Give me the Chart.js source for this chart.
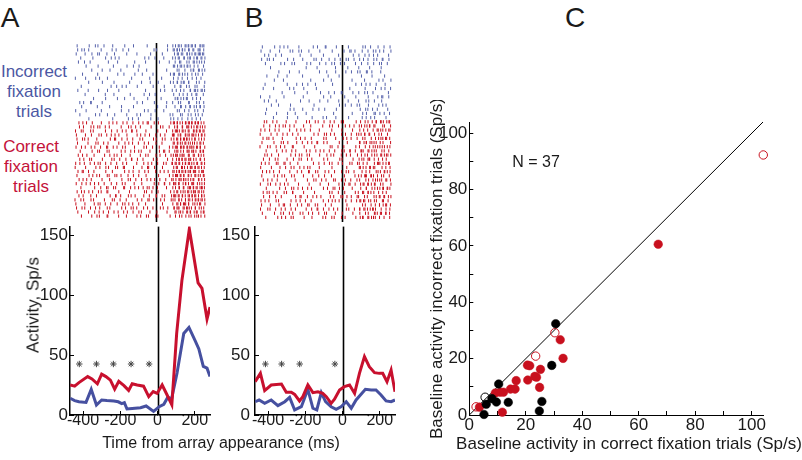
<!DOCTYPE html>
<html>
<head>
<meta charset="utf-8">
<script src="https://cdn.jsdelivr.net/npm/chart.js@4.4.1/dist/chart.umd.min.js"></script>
<style>
  body { margin: 0; width: 802px; height: 460px; position: relative; overflow: hidden; background: #fff;
         font-family: "Liberation Sans", Arial, sans-serif; color: #1a1a1a; }
  canvas { position: absolute; }
  .c { position: absolute; transform: translate(-50%, -50%); line-height: 1; white-space: nowrap; }
  .r { transform: translate(-50%, -50%) rotate(-90deg); }
  .multi { line-height: 20px; text-align: center; }
</style>
</head>
<body>
<canvas id="rasterA" width="140" height="189" style="left:70px;top:38px"></canvas>
<canvas id="rasterB" width="141" height="187" style="left:255px;top:40px"></canvas>
<canvas id="lineA" width="215" height="260" style="left:0px;top:200px"></canvas>
<canvas id="lineB" width="185" height="260" style="left:215px;top:200px"></canvas>
<canvas id="scatterC" width="382" height="360" style="left:420px;top:100px"></canvas>

<div class="c" style="left:10px;top:18px;font-size:28px">A</div>
<div class="c" style="left:254px;top:18px;font-size:28px">B</div>
<div class="c" style="left:575px;top:18px;font-size:28px">C</div>
<div class="c multi" style="left:34px;top:92px;font-size:17px;color:#4b57a3">Incorrect<br>fixation<br>trials</div>
<div class="c multi" style="left:31px;top:167px;font-size:17px;color:#c4123a">Correct<br>fixation<br>trials</div>
<div class="c r" style="left:33px;top:305px;font-size:17px">Activity, Sp/s</div>
<div class="c" style="left:221px;top:443px;font-size:16px">Time from array appearance (ms)</div>
<div class="c" style="left:629px;top:443px;font-size:17px">Baseline activity in correct fixation trials (Sp/s)</div>
<div class="c" style="left:536px;top:162px;font-size:16px">N = 37</div>

<script>
// ---- panel A: mean activity (Sp/s) vs time from array appearance (ms)
const aRedT  = [-469,-445,-422,-375,-352,-323,-300,-277,-253,-230,-208,-180,-155,-136,-109,-75,-47,-23,-2,25,49,77,103,131,171,218,239,266,282];
const aRedV  = [25,24,27,32,30,26,34,32,29,21.5,28,24.5,20.5,26,25,24,15.3,19.5,18,25,17.5,8.5,68,112,155,110,105.5,80,90];
const aBlueT = [-469,-445,-422,-384,-356,-328,-300,-272,-234,-211,-192,-178,-164,-136,-91,-61,-21,9,34,56,75,105,141,169,202,222,246,266,282];
const aBlueV = [14,12,11,10.5,21.4,8.3,12.5,12,11.7,11,9.5,10.3,5,5.5,6,7.5,3,6.9,8.9,15,13,35,68,73,62,55,40.5,39,32];
const aStarT = [-420,-328,-237,-142,-45];

// ---- panel B
const bRedT  = [-469,-441,-418,-383,-328,-302,-275,-257,-231,-213,-186,-159,-132,-106,-87,-61,-43,-16,10,38,65,91,118,144,172,198,216,239,261,282];
const bRedV  = [27.8,34.7,20.3,25,25.8,18.9,18.9,17.2,11.7,15.3,25,18.6,19.4,18,15.3,9.7,13.1,20.8,23.6,25,18,34.7,48.6,40.3,35.3,34.7,34.7,27.8,37.5,19.4];
const bBlueT = [-469,-448,-418,-383,-347,-310,-284,-257,-221,-186,-159,-138,-114,-91,-61,-34,-8,20,47,73,123,154,180,207,234,261,282];
const bBlueV = [11.1,12.5,9.7,12.5,7.8,11.1,14.7,4.2,6.9,21.4,5.6,4.2,18.6,11.1,6.9,4.7,6.9,11.1,5.6,12.5,21.4,20.8,20.8,16.7,11.7,11.1,12.5];
const bStarT = [-414,-327,-230,-41];
const starLevel = [42.5];

const timeTicks = [-400,-200,0,200];
const rateTicks = [0,50,100,150];

// ---- rasters: one string per trial, 80 bins of 9.4 ms from -470 ms;
//      a digit marks a spike, its value = ms offset inside the bin
const RASTER_START = -470, BIN_MS = 9.4;
const aBlueRows = [
  ".3......7. ..5.1..8.. ...2...... 6.....0... ....4..... ......9... 28.514.736 05291.8463",
  ".6..27..4. ......1... ..8..3...5 ...0...... ........6. 2.....9... 41703926.8 3.51.740.2",
  "7.....2... 4..9.0...6 ....3..... .8......1. ......5... ...7...... .296.43.81 5.07386142",
  "...5...... .0......8. ..3.7..1.. .......... ..9..4...2 ....6..... 17.52.93.4 60.284.519",
  "..1..8...3 .......... 5.....2... ......7... ...4...... .9......0. .6..31..8. 2.74.059.6",
  "......8... ....2..... ...6...... ..0..9...4 .......... .......... 53.176.294 8..3.6...1",
  ".......... 3.....7... .5......2. ........9. ....1..... ......4... ..8.0..6.. .371.95.28",
  "....6..... ...9...... ......3... 1.....8... .4......0. ........7. 52.84.16.3 .9..27..5.",
  "2.....5... ..7..1...9 .......... ....8..... ......0... ...3...... 6..4.9...2 ..1.7..5..",
  "........4. ......8... ....0..... ...6...... 9.....3... .2......7. 5.81.362.9 0...7.4..8",
  "...8...... .......... ..2..6...0 .5......3. ........1. ....9..... .4..72..6. 3..8.1...5",
  ".7......1. ....5..... 0.....9... .......... ...4...... ..6..2...8 ..3.9..0.. 81.425.637",
  "......2... ........6. ...9...... ....0..... ..5..8...3 .......... 7...2.5..1 .8..40..9.",
  ".......... .4......8. ......1... 5.....3... ....7..... ...0...... .693.28.51 ..4.7..2..",
  "..9..3...6 0.....7... .......... ........2. .5......8. ......4... 1..6.0...9 3...8.5..2",
  "....1..... ...7...... .3......6. ......0... .......... 8.....2... .5..94..1. 60.37.82.4",
  "4.....8... ......2... ........5. ...1...... ..7..0...3 ....6..... ..9.2..4.. 1..7.5...0",
  "...0...... ..6..2...9 ....4..... .8......1. 3.....7... ........5. 2...9.0..6 .4..18..3.",
  "........5. .......... ...2...... ..8..4...0 ......6... .1......9. 7..3.8...4 ..0.6..2.."
];
const aRedRows = [
  "..4.8..1.. 6.....2... 9..3.7...5 ..0..6...2 .8..41..7. .3......9. 52806.1937 47182506.3",
  "..7..2...8 .5..03..6. .1......4. ..9.5..3.. 2.....8... ..6.1..9.. .381.92.74 06.285.149",
  "3..8.0...6 .2......7. ..5..9...1 .4..82..0. ...6...... 9.....3... 17402958.6 2.83605174",
  "8.....4... 1...7.2..5 ..3.6..0.. .9......2. 4..1.8...7 ..5..3...9 60.471.825 39514.0728",
  ".2..69..1. ...4...... .7..30..8. ..1..5...9 .6......3. 0..7.4...2 8.52917460 39.60.28.5",
  ".5......0. ..8.2..6.. 3.....9... 7..1.4...0 ..6..2...8 ...5...... 41938.0627 9.35.184.0",
  "6...0.3..9 ..2..7...4 1..5.8...3 9.....6... ..4.0..7.. .8......1. 2750946183 64017392.8",
  "...2...... 5..9.1...7 .0......4. 8...3.6..2 7.....1... .9..52..0. .463.17.95 28604.9371",
  "..0.6..3.. .7......2. .4..18..6. ...9...... 2..5.0...8 ..3..7...1 59206841.7 3.74.916.2",
  "..9..4...0 2.....8... ..6.1..5.. .3..70..4. .8......2. 5.....9... 1.48270639 72.05.93.6",
  "4..0.7...3 .9..25..8. ..1..6...4 .7......0. ..3.9..2.. 8...5.1..6 06394.2817 58.294.617",
  "1.....5... ..8..3...0 6...9.2..7 4.....0... .2..63..9. ...8...... 7.30.514.2 94071638.5",
  ".8..41..3. .6......9. ...0...... 5..2.7...4 ..9..1...6 ..4.8..3.. 2059374816 71842.3960",
  ".2......6. 9..4.1...8 .0..57..3. ..6..9...2 ...7...... .4......1. 38517290.6 05.738.194",
  "..5.9..2.. 0.....6... .3......8. ..7.1..4.. 9...3.6..0 ..2..8...5 4.19537026 .261.93.07",
  "7...2.8..4 ..0.5..9.. ..3..6...1 8.....4... .1......7. .5..92..3. 64071.5928 .840.37.16",
  "...6...... ..1..8...4 3..7.0...9 5...2.8..1 .9..46..0. 7.....3... 28.93.60.5 4170529836",
  ".3..07..5. 8...4.1..6 2.....9... ...5...... ..7.0..3.. .1......8. 9.62.157.3 05831749.2",
  "..4..0...7 ...2...... .6..93..1. ..8.5..0.. ..3..7...9 1..6.2...4 73051928.6 49263.0815",
  "0..6.3...8 .4......1. ..9.2..7.. .5......3. .1..86..4. ..7..0...2 35.816.907 6.29471538",
  "5.....1... .8..24..6. ..0..9...3 7..1.5...2 ...4...... ...8...... 2.63907418 0.57.263.9",
  "9...3.0..5 ..6..2...8 .4......7. .1..58..0. ..2.6..9.. ..5.3..1.. 81740.5263 36.91.47.2",
  ".7......3. ..1.8..4.. 6...0.5..9 ..2..7...3 8.....1... 4.....6... .529.04.73 81.362.594",
  "...9...... 3..5.0...7 2.....8... .6......1. 4..9.2...6 .0......5. .8..37..2. 14.69.05.8"
];
const bBlueRows = [
  ".4......9. ..2.6..0.. ...7...... ..5..1...8 3.....6... ....0..... ..8.3..5.. ..1..7...4",
  "6.....2... .9......4. 0..7.3...8 ......5... ....1..... .3..86..0. ..4..9...2 7..1.5...9",
  "..8..3...6 ...1...... ....5..... .2......7. ........0. ......9... 4...1.6..3 .8......5.",
  ".0..47..2. ......8... 5.....1... ..9.3..6.. ..2..7...0 ..6.0..4.. 8..2.9...5 .3..61..7.",
  "...3...... ..7..0...5 .1......6. 9.....4... 2..8.5...1 .6......3. ..0..8...4 ..9.2..7..",
  "......4... .......... ........2. ....8..... ......1... ...6...... 3.....9... ....0.....",
  ".......... .5......0. ...9...... ......3... 7.....2... ..4..8...6 .1..95..3. ...7......",
  "....2..... 8.....5... ......0... .......... .6......3. .......... .9......4. ......1...",
  "........7. ....3..... .......... .0......8. ...5...... ......2... ...8...... ..6..1...9",
  "...1...... ......6... ..4..9...2 ...8...... ....3..... ........5. ..0.7..2.. 9.....4...",
  ".9......3. ........1. 6.....7... ....4..... .......... ....8..... ....2..... 5...0.3..7",
  ".......... ...5...... .2......8. ......9... ..0..4...6 1.....7... 3..9.6...0 ........4.",
  "3.....0... ....6..... ......4... ........8. ...2...... .7......5. ......1... .9..30..6.",
  "..6..2...9 .......... ....7..... 0.....5... .4......1. ...8...... 2...7.4..8 ....3.....",
  "......9... .3......6. .......... ...0...... ........5. ..1..7...3 8.....2... ..5.9..0..",
  "....0..... ........4. 7.....1... ..3..9...5 ......6... .......... .2..58..7. .6......0.",
  "...4...... 1.....8... .5......2. .......... ....9..... ......3... ..7..0...6 4..2.8...1",
  "........2. ......7... ...0...... .8......5. 6.....3... ....1..... ..4.8..6.. 0.....9..."
];
const bRedRows = [
  "..6.1..8.. 3.....0... .9......4. 2..7.5...1 ..8..3...6 .0......7. .4..29..5. 81.603.472",
  "..3..9...4 .7..15..2. 8.....6... .0......3. ..5.2..9.. ..1.7..4.. 6.09.381.5 2...9.0..7",
  "5..0.8...2 .6......1. ..4.9..3.. 7.....2... ...8...... 0.....5... 9..3.7...1 .527.08.64",
  "1.....7... 4...0.6..9 ...2...... ..9..5...3 6..1.4...8 ..2..7...0 37.81.50.9 ..6.2..8..",
  ".8..24..0. ...6...... ..1.7..5.. .3......9. 4.....2... 8..0.6...3 ..7.1..9.. 5.48.063.2",
  ".2......5. ..9.3..0.. ..4..8...1 .6..72..9. .0......4. ...3...... 71.580.236 9..4.1...7",
  "0...6.2..8 ..5..1...7 3.....9... ...4...... ..8.0..6.. .2......5. 7...3.9..1 48.26.07.3",
  "...7...... 2..6.9...4 .8......3. 5...1.7..0 ..3..6...9 .4..81..2. .610.95.37 .0..48..6.",
  "..9.4..1.. .3......8. .6..05..7. 2.....4... 8..3.0...6 ..7..2...5 .9..16..3. 04.739.218",
  "..1..7...3 9.....5... 4..8.2...0 .6......9. .3......7. 1.....8... 5.24.960.7 ..3.8..1..",
  "8..2.5...9 .0..63..4. ...1...... ..6..9...2 ..4.0..7.. 3...8.2..5 6..0.4...8 .742.19.50",
  "4.....9... ..2..6...0 7...3.8..1 5.....2... ...9...... ...0...... 63.07.94.2 1...5.8..4",
  ".5..09..3. .8......2. ..7..4...6 1..9.3...7 ..0..5...8 ..6.1..4.. ..3.7..0.. 9.15.827.4",
  ".1......6. 7..4.0...3 9.....5... ..2..8...4 ...6...... .5......0. 28.940.613 .7..25..9.",
  "..0.7..3.. 5.....1... .4......9. ..8.2..6.. 3...9.0..7 ..1..4...2 8...6.3..0 57.13.84.6",
  "2...8.4..6 ..3.9..1.. ...5...... 0.....7... .8......2. .6..30..1. .495.72.08 3..6.1...9",
  "...8...... ..0..5...3 6..2.9...1 .4......7. .2..67..5. 9.....3... .5..80..4. 17.294.603",
  ".9..36..0. 4...7.2..8 1.....6... ...3...... ..5.0..8.. .7......2. 0.63.917.5 ..4.9..1..",
  "..2..8...5 ...0...... .7..41..9. ..3.6..2.. ..9..0...4 5..1.7...3 2..8.5...6 .083.61.49",
  "6..1.4...8 .3......9. ..0.5..7.. .2......6. .8..19..3. ..4..7...0 95.20.36.8 .1..74..2.",
  "9.....3... .6..20..5. ..8..4...1 0..7.2...9 ...5...... ...1...... ..6.3..8.. 4.90.273.6",
  "3...7.1..5 ..9..4...0 .6......2. .5..83..7. ..1.9..4.. ..7.2..6.. 80.416.372 5...0.9..3",
  ".4......8. ..7.3..9.. 0...5.2..6 ..1..8...4 6.....0... 2.....7... 9...4.1..8 36.52.70.1",
  "...5...... 8..2.6...0 3.....9... .7......4. 1..8.3...7 .9......5. .260.84.13 4..0.7...2"
];

// ---- panel C: baseline activity, correct (x) vs incorrect (y) fixation trials
const redFilledX = [66.9,32.2,33.2,20.6,21.4,25.2,16.6,20.7,23.2,23.8,24.9,14.6,16.2,10.9,12.1,9.2,11.7,3.6];
const redFilledY = [60.6,26.7,20.1,17.7,17.5,16.2,12.2,12.4,13.7,13.4,9.8,9.2,9.2,8.1,8.1,7.8,1.0,2.8];
const redOpenX   = [104.1,30.3,23.5,2.4];
const redOpenY   = [92.3,29.2,20.9,2.9];
const blackFilledX = [30.6,29.2,10.4,8.0,9.6,6.0,13.8,5.2,25.7,24.8];
const blackFilledY = [32.4,17.6,11.0,5.8,4.6,3.8,4.5,0.2,4.8,1.4];
const blackOpenX = [5.6];
const blackOpenY = [6.3];
const unityX = [0,104];
const unityY = [0,104];
const baseTicks = [0,10,20,30,40,50,60,70,80,90,100];

const RED = '#c8101e', RED_LINE = '#c8102e', BLUE_LINE = '#4650a0', BLUE_RASTER = '#5561aa', INK = '#1a1a1a';
const T_MIN = -470, T_MAX = 282;
Chart.defaults.font.family = '"Liberation Sans", Arial, sans-serif';
Chart.defaults.color = INK;

const xy = (xs, ys) => xs.map((x, i) => ({x: x, y: ys[i]}));
const fixedTicks = list => scale => { scale.ticks = list.map(v => ({value: v})); };

function rasterPoints(rows, firstRow) {
  const pts = [];
  rows.forEach((row, r) => {
    const bins = row.replace(/ /g, '');
    for (let i = 0; i < bins.length; i++) {
      if (bins[i] !== '.') pts.push({x: RASTER_START + i * BIN_MS + Number(bins[i]), y: firstRow + r});
    }
  });
  return pts;
}

const zeroLine = {
  id: 'zeroLine',
  beforeDatasetsDraw(chart) {
    const {ctx, chartArea, scales} = chart;
    const x = Math.round(scales.x.getPixelForValue(0)) + 0.5;
    ctx.save();
    ctx.strokeStyle = '#000';
    ctx.lineWidth = 1.6;
    ctx.beginPath();
    ctx.moveTo(x, chartArea.top);
    ctx.lineTo(x, chartArea.bottom);
    ctx.stroke();
    ctx.restore();
  }
};

const quiet = {legend: {display: false}, tooltip: {enabled: false}};

function raster(id, blueRows, redRows, yMin, yMax) {
  const tick = color => ({pointStyle: 'line', pointRotation: 90, pointRadius: 1.6,
    pointBorderColor: color, pointBorderWidth: 1, borderColor: color, showLine: false, clip: false});
  new Chart(document.getElementById(id), {
    type: 'scatter',
    data: {datasets: [
      Object.assign({data: rasterPoints(blueRows, 0)}, tick(BLUE_RASTER)),
      Object.assign({data: rasterPoints(redRows, blueRows.length)}, tick(RED))
    ]},
    options: {
      responsive: false, animation: false, events: [],
      plugins: quiet,
      layout: {padding: 0},
      scales: {
        x: {type: 'linear', display: false, min: T_MIN, max: T_MAX},
        y: {type: 'linear', display: false, min: yMin, max: yMax, reverse: true}
      }
    },
    plugins: [zeroLine]
  });
}

function activity(id, red, blue, stars, yWidth, yPad, padRight) {
  const axis = {
    grid: {display: true, drawOnChartArea: false, drawTicks: true, tickLength: -4, color: '#000', lineWidth: 1},
    border: {display: true, color: '#000', width: 1.5}
  };
  new Chart(document.getElementById(id), {
    type: 'scatter',
    data: {datasets: [
      {data: red, showLine: true, borderColor: RED_LINE, borderWidth: 3, pointRadius: 0, tension: 0, order: 1},
      {data: blue, showLine: true, borderColor: BLUE_LINE, borderWidth: 3, pointRadius: 0, tension: 0, order: 2},
      {data: stars, showLine: false, pointStyle: 'star', pointRadius: 3.2, pointBorderColor: '#444',
       pointBorderWidth: 1, borderColor: '#444', order: 0}
    ]},
    options: {
      responsive: false, animation: false, events: [],
      plugins: quiet,
      layout: {padding: {top: 26.6, right: padRight, left: 0, bottom: 0}},
      scales: {
        x: Object.assign({
          type: 'linear', min: T_MIN, max: T_MAX,
          afterBuildTicks: fixedTicks(timeTicks),
          afterFit: s => { s.height = 45; },
          ticks: {font: {size: 16, lineHeight: 1}, padding: 1.5, color: INK, callback: v => v,
                  maxRotation: 0, minRotation: 0, autoSkip: false}
        }, axis),
        y: Object.assign({
          type: 'linear', min: 0, max: 157,
          afterBuildTicks: fixedTicks(rateTicks),
          afterFit: s => { s.width = yWidth; },
          ticks: {font: {size: 17}, padding: yPad, color: INK, callback: v => v, autoSkip: false}
        }, axis)
      }
    },
    plugins: [zeroLine]
  });
}

raster('rasterA', aBlueRows, aRedRows, -0.7, 43.46);
raster('rasterB', bBlueRows, bRedRows, -0.46, 42.1);

activity('lineA', xy(aRedT, aRedV), xy(aBlueT, aBlueV), xy(aStarT, aStarT.map(() => starLevel[0])), 70, 6, 5);
activity('lineB', xy(bRedT, bRedV), xy(bBlueT, bBlueV), xy(bStarT, bStarT.map(() => starLevel[0])), 40, 9, 4.5);

const cAxis = {
  type: 'linear', min: 0, max: 104,
  afterBuildTicks: fixedTicks(baseTicks),
  grid: {display: true, drawOnChartArea: false, drawTicks: true, tickLength: -4, color: '#000', lineWidth: 1},
  border: {display: true, color: '#000', width: 1}
};
new Chart(document.getElementById('scatterC'), {
  type: 'scatter',
  data: {datasets: [
    {data: xy(unityX, unityY), showLine: true, borderColor: '#000', borderWidth: 1, pointRadius: 0, order: 9},
    {data: xy(redOpenX, redOpenY), pointRadius: 4.2, pointBackgroundColor: 'rgba(0,0,0,0)',
     pointBorderColor: RED, pointBorderWidth: 1, clip: false, order: 4},
    {data: xy(blackOpenX, blackOpenY), pointRadius: 4.2, pointBackgroundColor: 'rgba(0,0,0,0)',
     pointBorderColor: '#000', pointBorderWidth: 1, clip: false, order: 3},
    {data: xy(redFilledX, redFilledY), pointRadius: 4.3, pointBackgroundColor: RED,
     pointBorderColor: RED, pointBorderWidth: 0.5, clip: false, order: 2},
    {data: xy(blackFilledX, blackFilledY), pointRadius: 4.3, pointBackgroundColor: '#000',
     pointBorderColor: '#000', pointBorderWidth: 0.5, clip: false, order: 1}
  ]},
  options: {
    responsive: false, animation: false, events: [],
    plugins: quiet,
    layout: {padding: {top: 22, right: 39, left: 0, bottom: 0}},
    scales: {
      x: Object.assign({}, cAxis, {
        afterFit: s => { s.height = 45; },
        ticks: {font: {size: 17, lineHeight: 1}, padding: 5.5, color: INK, maxRotation: 0, minRotation: 0,
                autoSkip: false, callback: v => (v % 20 === 0 ? v : '')}
      }),
      y: Object.assign({}, cAxis, {
        afterFit: s => { s.width = 49.3; },
        ticks: {font: {size: 17}, padding: 6, color: INK, autoSkip: false, callback: v => (v % 20 === 0 ? v : '')},
        title: {display: true, text: 'Baseline activity incorrect fixation trials (Sp/s)',
                font: {size: 17}, color: INK, padding: {top: 6.8, bottom: 0}}
      })
    }
  }
});
</script>
</body>
</html>
